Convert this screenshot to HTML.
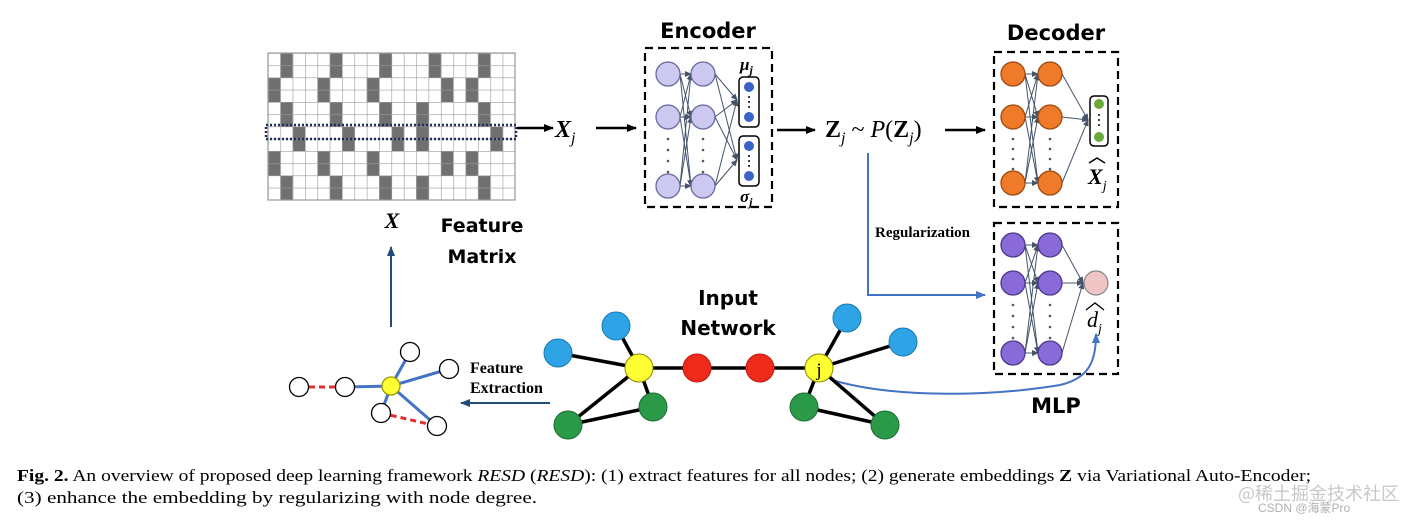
<!DOCTYPE html>
<html><head><meta charset="utf-8"><style>
html,body{margin:0;padding:0;background:#fff;}
svg{display:block;}
.sans{font-family:"DejaVu Sans","Liberation Sans",sans-serif;font-weight:bold;}
.serif{font-family:"Liberation Serif",serif;}
</style></head><body>
<svg width="1419" height="522" viewBox="0 0 1419 522" xmlns="http://www.w3.org/2000/svg">
<defs>
<marker id="ak" markerWidth="10" markerHeight="8" refX="9" refY="4" orient="auto" markerUnits="userSpaceOnUse"><path d="M0,0 L10,4 L0,8 z" fill="#000"/></marker>
<marker id="ab" markerWidth="10" markerHeight="8" refX="9" refY="4" orient="auto" markerUnits="userSpaceOnUse"><path d="M0,0 L10,4 L0,8 z" fill="#4472c4"/></marker>
<marker id="an" markerWidth="10" markerHeight="8" refX="9" refY="4" orient="auto" markerUnits="userSpaceOnUse"><path d="M0,0 L10,4 L0,8 z" fill="#1f4e79"/></marker>
<marker id="as" markerWidth="7" markerHeight="6" refX="6" refY="3" orient="auto" markerUnits="userSpaceOnUse"><path d="M0,0 L7,3 L0,6 z" fill="#44546a"/></marker>
<pattern id="gp" patternUnits="userSpaceOnUse" x="268" y="53" width="12.35" height="12.25">
<path d="M0,0 H12.35 M0,0 V12.25" stroke="#9a9a9a" stroke-width="1.2" fill="none"/>
</pattern>
</defs>

<!-- Feature matrix grid -->
<rect x="268" y="53" width="247" height="147" fill="#fff"/>
<g fill="#707070">
<rect x="280.35" y="53" width="12.35" height="24.5"/><rect x="329.75" y="53" width="12.35" height="24.5"/><rect x="379.15" y="53" width="12.35" height="24.5"/><rect x="428.55" y="53" width="12.35" height="24.5"/><rect x="477.95" y="53" width="12.35" height="24.5"/>
<rect x="268" y="77.5" width="12.35" height="24.5"/><rect x="317.4" y="77.5" width="12.35" height="24.5"/><rect x="366.8" y="77.5" width="12.35" height="24.5"/><rect x="440.9" y="77.5" width="12.35" height="24.5"/><rect x="465.6" y="77.5" width="12.35" height="24.5"/>
<rect x="280.35" y="102" width="12.35" height="24.5"/><rect x="329.75" y="102" width="12.35" height="24.5"/><rect x="379.15" y="102" width="12.35" height="24.5"/><rect x="416.2" y="102" width="12.35" height="24.5"/><rect x="477.95" y="102" width="12.35" height="24.5"/>
<rect x="292.7" y="126.5" width="12.35" height="24.5"/><rect x="342.1" y="126.5" width="12.35" height="24.5"/><rect x="391.5" y="126.5" width="12.35" height="24.5"/><rect x="416.2" y="126.5" width="12.35" height="24.5"/><rect x="490.3" y="126.5" width="12.35" height="24.5"/>
<rect x="268" y="151" width="12.35" height="24.5"/><rect x="317.4" y="151" width="12.35" height="24.5"/><rect x="366.8" y="151" width="12.35" height="24.5"/><rect x="440.9" y="151" width="12.35" height="24.5"/><rect x="465.6" y="151" width="12.35" height="24.5"/>
<rect x="280.35" y="175.5" width="12.35" height="24.5"/><rect x="329.75" y="175.5" width="12.35" height="24.5"/><rect x="379.15" y="175.5" width="12.35" height="24.5"/><rect x="416.2" y="175.5" width="12.35" height="24.5"/><rect x="477.95" y="175.5" width="12.35" height="24.5"/>
</g>
<rect x="268" y="53" width="247" height="147" fill="url(#gp)" stroke="#9a9a9a" stroke-width="1.2"/>
<rect x="266" y="125" width="250" height="14" fill="none" stroke="#1f2d5a" stroke-width="2.5" stroke-dasharray="2,2"/>

<line x1="517" y1="128" x2="553" y2="128" stroke="#000" stroke-width="2.5" marker-end="url(#ak)"/>
<text x="555" y="137" class="serif" font-size="24" font-weight="bold" font-style="italic">X<tspan font-size="16" dy="6" font-weight="normal">j</tspan></text>
<line x1="596" y1="128" x2="636" y2="128" stroke="#000" stroke-width="2.5" marker-end="url(#ak)"/>

<!-- Encoder -->
<text x="708" y="38" class="sans" font-size="21" text-anchor="middle">Encoder</text>
<rect x="645" y="48" width="127" height="159" fill="none" stroke="#000" stroke-width="2.2" stroke-dasharray="8,5"/>
<g stroke="#44546a" stroke-width="1" marker-end="url(#as)">
<line x1="680" y1="74" x2="691" y2="74"/><line x1="680" y1="74" x2="691" y2="117"/><line x1="680" y1="74" x2="691" y2="186"/>
<line x1="680" y1="117" x2="691" y2="74"/><line x1="680" y1="117" x2="691" y2="117"/><line x1="680" y1="117" x2="691" y2="186"/>
<line x1="680" y1="186" x2="691" y2="74"/><line x1="680" y1="186" x2="691" y2="117"/><line x1="680" y1="186" x2="691" y2="186"/>
<line x1="715" y1="74" x2="737" y2="100"/><line x1="715" y1="117" x2="737" y2="100"/><line x1="715" y1="186" x2="737" y2="100"/>
<line x1="715" y1="74" x2="737" y2="160"/><line x1="715" y1="117" x2="737" y2="160"/><line x1="715" y1="186" x2="737" y2="160"/>
</g>
<g fill="#cdc8f0" stroke="#6a6aa0" stroke-width="1.3">
<circle cx="668" cy="74" r="12"/><circle cx="668" cy="117" r="12"/><circle cx="668" cy="186" r="12"/>
<circle cx="703" cy="74" r="12"/><circle cx="703" cy="117" r="12"/><circle cx="703" cy="186" r="12"/>
</g>
<g fill="#555">
<circle cx="668" cy="139" r="1.3"/><circle cx="668" cy="150" r="1.3"/><circle cx="668" cy="161" r="1.3"/><circle cx="668" cy="172" r="1.3"/>
<circle cx="703" cy="139" r="1.3"/><circle cx="703" cy="150" r="1.3"/><circle cx="703" cy="161" r="1.3"/><circle cx="703" cy="172" r="1.3"/>
</g>
<rect x="739" y="77" width="20" height="50" rx="4" fill="#fff" stroke="#000" stroke-width="1.5"/>
<rect x="739" y="136" width="20" height="50" rx="4" fill="#fff" stroke="#000" stroke-width="1.5"/>
<g fill="#3a62c8"><circle cx="749" cy="87" r="5"/><circle cx="749" cy="117" r="5"/><circle cx="749" cy="146" r="5"/><circle cx="749" cy="176" r="5"/></g>
<g fill="#000"><circle cx="749" cy="97" r="1"/><circle cx="749" cy="102" r="1"/><circle cx="749" cy="107" r="1"/><circle cx="749" cy="156" r="1"/><circle cx="749" cy="161" r="1"/><circle cx="749" cy="166" r="1"/></g>
<text x="740" y="70" class="serif" font-size="17" font-weight="bold" font-style="italic">μ<tspan font-size="12" dy="4">j</tspan></text>
<text x="740" y="202" class="serif" font-size="17" font-weight="bold" font-style="italic">σ<tspan font-size="12" dy="4">j</tspan></text>

<line x1="777" y1="130" x2="815" y2="130" stroke="#000" stroke-width="2.5" marker-end="url(#ak)"/>
<text x="825" y="137" class="serif" font-size="24"><tspan font-weight="bold">Z</tspan><tspan font-size="16" font-style="italic" dy="6">j</tspan><tspan dy="-6"> ~ </tspan><tspan font-style="italic">P</tspan>(<tspan font-weight="bold">Z</tspan><tspan font-size="16" font-style="italic" dy="6">j</tspan><tspan dy="-6">)</tspan></text>
<line x1="945" y1="130" x2="985" y2="130" stroke="#000" stroke-width="2.5" marker-end="url(#ak)"/>

<!-- Decoder -->
<text x="1056" y="40" class="sans" font-size="21" text-anchor="middle">Decoder</text>
<rect x="994" y="52" width="124" height="155" fill="none" stroke="#000" stroke-width="2.2" stroke-dasharray="8,5"/>
<g stroke="#44546a" stroke-width="1" marker-end="url(#as)">
<line x1="1025" y1="74" x2="1038" y2="74"/><line x1="1025" y1="74" x2="1038" y2="117"/><line x1="1025" y1="74" x2="1038" y2="183"/>
<line x1="1025" y1="117" x2="1038" y2="74"/><line x1="1025" y1="117" x2="1038" y2="117"/><line x1="1025" y1="117" x2="1038" y2="183"/>
<line x1="1025" y1="183" x2="1038" y2="74"/><line x1="1025" y1="183" x2="1038" y2="117"/><line x1="1025" y1="183" x2="1038" y2="183"/>
<line x1="1062" y1="74" x2="1088" y2="120"/><line x1="1062" y1="117" x2="1088" y2="120"/><line x1="1062" y1="183" x2="1088" y2="120"/>
</g>
<g fill="#ee7a2a" stroke="#a04a10" stroke-width="1.3">
<circle cx="1013" cy="74" r="12"/><circle cx="1013" cy="117" r="12"/><circle cx="1013" cy="183" r="12"/>
<circle cx="1050" cy="74" r="12"/><circle cx="1050" cy="117" r="12"/><circle cx="1050" cy="183" r="12"/>
</g>
<g fill="#555">
<circle cx="1013" cy="139" r="1.3"/><circle cx="1013" cy="149" r="1.3"/><circle cx="1013" cy="159" r="1.3"/><circle cx="1013" cy="169" r="1.3"/>
<circle cx="1050" cy="139" r="1.3"/><circle cx="1050" cy="149" r="1.3"/><circle cx="1050" cy="159" r="1.3"/><circle cx="1050" cy="169" r="1.3"/>
</g>
<rect x="1090" y="96" width="18" height="50" rx="4" fill="#fff" stroke="#000" stroke-width="1.5"/>
<circle cx="1099" cy="104" r="5" fill="#6aaa3a"/><circle cx="1099" cy="137" r="5" fill="#6aaa3a"/>
<g fill="#000"><circle cx="1099" cy="115" r="1"/><circle cx="1099" cy="120" r="1"/><circle cx="1099" cy="125" r="1"/></g>
<text x="1088" y="184" class="serif" font-size="22" font-weight="bold" font-style="italic">X<tspan font-size="14" dy="6" font-weight="normal">j</tspan></text>
<path d="M1089,163 L1097,158 L1105,163" fill="none" stroke="#000" stroke-width="1.5"/>

<!-- Regularization -->
<text x="875" y="237" class="serif" font-size="15" font-weight="bold">Regularization</text>
<polyline points="868,153 868,295 985,295" fill="none" stroke="#4472c4" stroke-width="2" marker-end="url(#ab)"/>

<!-- MLP -->
<rect x="994" y="223" width="124" height="151" fill="none" stroke="#000" stroke-width="2.2" stroke-dasharray="8,5"/>
<g stroke="#44546a" stroke-width="1" marker-end="url(#as)">
<line x1="1025" y1="245" x2="1038" y2="245"/><line x1="1025" y1="245" x2="1038" y2="283"/><line x1="1025" y1="245" x2="1038" y2="353"/>
<line x1="1025" y1="283" x2="1038" y2="245"/><line x1="1025" y1="283" x2="1038" y2="283"/><line x1="1025" y1="283" x2="1038" y2="353"/>
<line x1="1025" y1="353" x2="1038" y2="245"/><line x1="1025" y1="353" x2="1038" y2="283"/><line x1="1025" y1="353" x2="1038" y2="353"/>
<line x1="1062" y1="245" x2="1083" y2="283"/><line x1="1062" y1="283" x2="1083" y2="283"/><line x1="1062" y1="353" x2="1083" y2="283"/>
</g>
<g fill="#8a6ad8" stroke="#4a3a8a" stroke-width="1.3">
<circle cx="1013" cy="245" r="12"/><circle cx="1013" cy="283" r="12"/><circle cx="1013" cy="353" r="12"/>
<circle cx="1050" cy="245" r="12"/><circle cx="1050" cy="283" r="12"/><circle cx="1050" cy="353" r="12"/>
</g>
<g fill="#555">
<circle cx="1013" cy="305" r="1.3"/><circle cx="1013" cy="316" r="1.3"/><circle cx="1013" cy="327" r="1.3"/><circle cx="1013" cy="338" r="1.3"/>
<circle cx="1050" cy="305" r="1.3"/><circle cx="1050" cy="316" r="1.3"/><circle cx="1050" cy="327" r="1.3"/><circle cx="1050" cy="338" r="1.3"/>
</g>
<circle cx="1096" cy="283" r="12" fill="#efc4c4" stroke="#888" stroke-width="1.2"/>
<text x="1087" y="327" class="serif" font-size="22" font-style="italic">d<tspan font-size="14" dy="6">j</tspan></text>
<path d="M1086,310 L1095,303 L1104,310" fill="none" stroke="#000" stroke-width="1.3"/>
<text x="1056" y="413" class="sans" font-size="21" text-anchor="middle">MLP</text>
<path d="M832,380 C900,400 1000,395 1060,385 C1090,378 1096,360 1096,334" fill="none" stroke="#4472c4" stroke-width="2" marker-end="url(#ab)"/>

<!-- left labels -->
<text x="392" y="228" class="serif" font-size="22" font-weight="bold" font-style="italic" text-anchor="middle">X</text>
<text x="482" y="232" class="sans" font-size="19" text-anchor="middle">Feature</text>
<text x="482" y="263" class="sans" font-size="19" text-anchor="middle">Matrix</text>
<line x1="391" y1="327" x2="391" y2="247" stroke="#1f4e79" stroke-width="2" marker-end="url(#an)"/>

<!-- small graph -->
<g stroke-width="3">
<line x1="299" y1="387" x2="345" y2="387" stroke="#e03030" stroke-dasharray="6,4"/>
<line x1="381" y1="413" x2="437" y2="426" stroke="#e03030" stroke-dasharray="6,4"/>
<g stroke="#4472c4">
<line x1="345" y1="387" x2="391" y2="386"/>
<line x1="391" y1="386" x2="410" y2="352"/>
<line x1="391" y1="386" x2="449" y2="369"/>
<line x1="391" y1="386" x2="381" y2="413"/>
<line x1="391" y1="386" x2="437" y2="426"/>
</g></g>
<g fill="#fff" stroke="#000" stroke-width="1.3">
<circle cx="299" cy="387" r="9.5"/><circle cx="345" cy="387" r="9.5"/>
<circle cx="410" cy="352" r="9.5"/><circle cx="449" cy="369" r="9.5"/>
<circle cx="381" cy="413" r="9.5"/><circle cx="437" cy="426" r="9.5"/>
<circle cx="391" cy="386" r="9" fill="#ffff33" stroke="#999900"/>
</g>
<text x="470" y="373" class="serif" font-size="16" font-weight="bold">Feature</text>
<text x="470" y="393" class="serif" font-size="16" font-weight="bold">Extraction</text>
<line x1="550" y1="403" x2="461" y2="403" stroke="#1f4e79" stroke-width="2" marker-end="url(#an)"/>

<!-- input network -->
<text x="728" y="305" class="sans" font-size="20" text-anchor="middle">Input</text>
<text x="728" y="335" class="sans" font-size="20" text-anchor="middle">Network</text>
<g stroke="#000" stroke-width="3.5">
<line x1="639" y1="368" x2="558" y2="353"/><line x1="639" y1="368" x2="616" y2="326"/>
<line x1="639" y1="368" x2="819" y2="368"/>
<line x1="639" y1="368" x2="653" y2="407"/><line x1="639" y1="368" x2="568" y2="425"/>
<line x1="568" y1="425" x2="653" y2="407"/>
<line x1="819" y1="368" x2="847" y2="318"/><line x1="819" y1="368" x2="903" y2="342"/>
<line x1="819" y1="368" x2="804" y2="407"/><line x1="819" y1="368" x2="885" y2="425"/>
<line x1="804" y1="407" x2="885" y2="425"/>
</g>
<g stroke-width="1">
<circle cx="558" cy="353" r="14" fill="#2ea3e6" stroke="#1a7ab0"/>
<circle cx="616" cy="326" r="14" fill="#2ea3e6" stroke="#1a7ab0"/>
<circle cx="847" cy="318" r="14" fill="#2ea3e6" stroke="#1a7ab0"/>
<circle cx="903" cy="342" r="14" fill="#2ea3e6" stroke="#1a7ab0"/>
<circle cx="653" cy="407" r="14" fill="#2b9a48" stroke="#1d6b31"/>
<circle cx="568" cy="425" r="14" fill="#2b9a48" stroke="#1d6b31"/>
<circle cx="804" cy="407" r="14" fill="#2b9a48" stroke="#1d6b31"/>
<circle cx="885" cy="425" r="14" fill="#2b9a48" stroke="#1d6b31"/>
<circle cx="697" cy="368" r="14" fill="#ee2a1b" stroke="#c01a10"/>
<circle cx="760" cy="368" r="14" fill="#ee2a1b" stroke="#c01a10"/>
<circle cx="639" cy="368" r="14" fill="#ffff33" stroke="#888800"/>
<circle cx="819" cy="368" r="14" fill="#ffff33" stroke="#888800"/>
</g>
<text x="819" y="376" class="serif" font-size="19" text-anchor="middle">j</text>

<!-- caption -->
<text x="17" y="481" class="serif" font-size="16.5" textLength="1294" lengthAdjust="spacingAndGlyphs"><tspan font-weight="bold">Fig. 2.</tspan> An overview of proposed deep learning framework <tspan font-style="italic">RESD</tspan> (<tspan font-style="italic">RESD</tspan>): (1) extract features for all nodes; (2) generate embeddings <tspan font-weight="bold">Z</tspan> via Variational Auto-Encoder;</text>
<text x="17" y="503" class="serif" font-size="16.5" textLength="520" lengthAdjust="spacingAndGlyphs">(3) enhance the embedding by regularizing with node degree.</text>
<text x="1238" y="500" font-family="'Noto Sans CJK SC',sans-serif" font-size="18" fill="#c8c8c8">@稀土掘金技术社区</text>
<text x="1258" y="512" font-family="'Liberation Sans','Noto Sans CJK SC',sans-serif" font-size="12" fill="#b0b0b0">CSDN @海蒙Pro</text>
</svg>
</body></html>
